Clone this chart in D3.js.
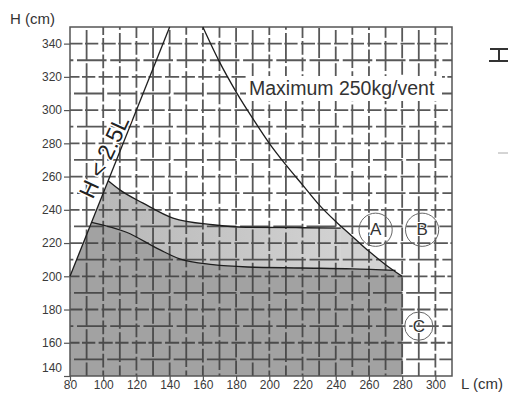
<!DOCTYPE html>
<html>
<head>
<meta charset="utf-8">
<script src="https://cdn.jsdelivr.net/npm/d3@7"></script>
<style>
  html, body { margin: 0; padding: 0; background: #fff; }
  svg { display: block; }
  text { font-family: "Liberation Sans", Arial, sans-serif; }
</style>
</head>
<body>
<svg id="chart" width="508" height="394"></svg>
<script>
// ---------- data ----------
const xTicks = [80, 100, 120, 140, 160, 180, 200, 220, 240, 260, 280, 300];
const yTicks = [140, 160, 180, 200, 220, 240, 260, 280, 300, 320, 340];
const xDomain = [80, 310];
const yDomain = [140, 350];
const gridStep = 10;

// H < 2.5L straight line
const ratioLine = [[80, 200], [140, 350]];
// "Maximum 250kg/vent" curve
const maxCurve = [[160, 350], [170, 329], [180, 311], [190, 295], [200, 280], [210, 267],
                  [220, 255], [230, 243], [240, 233], [250, 224], [260, 215], [270, 207], [280, 200]];
// upper boundary of light zone
const upperCurve = [[103, 257.5], [110, 252], [124, 244], [142, 235], [166, 231],
                    [186, 229.5], [220, 229.2], [243, 229]];
// lower boundary (dark zone)
const lowerCurve = [[93, 232.5], [114, 226.5], [134, 216], [146, 210.5], [166, 207],
                    [187, 205.6], [219, 205], [250, 204.5], [276, 203.5]];
// labelled circles
const circleLabels = ["A", "B", "C"];
const circleL = [264, 292, 290];
const circleH = [228, 228, 170];
const circleR = [10, 10, 8.5];

// ---------- drawing ----------
const svg = d3.select("#chart");
const x = d3.scaleLinear().domain(xDomain).range([70, 452]);
const y = d3.scaleLinear().domain(yDomain).range([376, 27]);
const X0 = x(xDomain[0]), X1 = x(xDomain[1]), Y0 = y(yDomain[0]), Y1 = y(yDomain[1]);

const defs = svg.append("defs");
const gLight = defs.append("linearGradient").attr("id", "gLight").attr("x1", "0").attr("x2", "1").attr("y1", "0").attr("y2", "0");
gLight.append("stop").attr("offset", "0").attr("stop-color", "#b9b9b9");
gLight.append("stop").attr("offset", "1").attr("stop-color", "#d2d2d2");

const curveGen = d3.line().x(d => x(d[0])).y(d => y(d[1])).curve(d3.curveMonotoneX);
const straight = d3.line().x(d => x(d[0])).y(d => y(d[1]));

// feasible region clip: under max curve, right of ratio line
const maxPath = curveGen(maxCurve).replace(/^M/, "L");
const clipD = `M${x(80)},${y(140)}L${x(ratioLine[0][0])},${y(ratioLine[0][1])}L${x(ratioLine[1][0])},${y(ratioLine[1][1])}` +
  maxPath + `L${x(280)},${y(140)}Z`;
defs.append("clipPath").attr("id", "feasible").append("path").attr("d", clipD);

const fills = svg.append("g").attr("clip-path", "url(#feasible)");
const areaGen = d3.area().x(d => x(d[0])).y0(y(140)).y1(d => y(d[1])).curve(d3.curveMonotoneX);
// light zone
fills.append("path").attr("d", areaGen(upperCurve)).attr("fill", "url(#gLight)");
fills.append("rect").attr("x", x(80)).attr("y", y(upperCurve[0][1]))
  .attr("width", x(upperCurve[0][0]) - x(80) + 0.5).attr("height", y(140) - y(upperCurve[0][1])).attr("fill", "#b9b9b9");
const uLast = upperCurve[upperCurve.length - 1];
fills.append("rect").attr("x", x(uLast[0]) - 0.5).attr("y", y(uLast[1]))
  .attr("width", x(290) - x(uLast[0])).attr("height", y(140) - y(uLast[1])).attr("fill", "#d2d2d2");
// dark zone
fills.append("path").attr("d", areaGen(lowerCurve)).attr("fill", "#a2a2a2");
fills.append("rect").attr("x", x(80)).attr("y", y(lowerCurve[0][1]))
  .attr("width", x(lowerCurve[0][0]) - x(80) + 0.5).attr("height", y(140) - y(lowerCurve[0][1])).attr("fill", "#a2a2a2");
const lLast = lowerCurve[lowerCurve.length - 1];
fills.append("rect").attr("x", x(lLast[0]) - 0.5).attr("y", y(lLast[1]))
  .attr("width", x(290) - x(lLast[0])).attr("height", y(140) - y(lLast[1])).attr("fill", "#a2a2a2");

// textured grid
const grid = svg.append("g").attr("stroke", "#3c3c3c").attr("stroke-width", 1.8).attr("opacity", 0.85);
const hVals = d3.range(yDomain[0] + gridStep, yDomain[1], gridStep);
const vVals = d3.range(xDomain[0] + gridStep, xDomain[1], gridStep);
const cw = x(90) - x(80), ch = y(140) - y(150);
grid.selectAll("line.h").data(hVals).join("line")
  .attr("x1", X0).attr("x2", X1).attr("y1", d => y(d)).attr("y2", d => y(d))
  .attr("stroke-dasharray", (d, i) => i % 2 ? `${cw * 0.8},${cw * 0.2},${cw * 0.85},${cw * 0.15}` : `${cw * 1.78},${cw * 0.22}`)
  .attr("stroke-dashoffset", (d, i) => -[4, 12, 7, 15][i % 4]);
grid.selectAll("line.v").data(vVals).join("line")
  .attr("y1", Y1).attr("y2", Y0).attr("x1", d => x(d)).attr("x2", d => x(d))
  .attr("stroke-dasharray", (d, i) => i % 2 ? `${ch * 0.82},${ch * 0.18}` : `${ch * 1.8},${ch * 0.2}`)
  .attr("stroke-dashoffset", (d, i) => -[3, 11, 6, 14, 1][i % 5]);

// frame
svg.append("rect").attr("x", X0).attr("y", Y1).attr("width", X1 - X0).attr("height", Y0 - Y1)
  .attr("fill", "none").attr("stroke", "#555").attr("stroke-width", 1.5);

// curves
const curves = svg.append("g").attr("fill", "none").attr("stroke", "#1e1e1e").attr("stroke-width", 1.3);
curves.append("path").attr("d", straight(ratioLine));
curves.append("path").attr("d", curveGen(maxCurve));
curves.append("path").attr("d", curveGen(upperCurve));
curves.append("path").attr("d", curveGen(lowerCurve));

// axes
const yAxis = d3.axisLeft(y).tickValues(yTicks).tickSize(6).tickPadding(2).tickFormat(d3.format("d"));
const ya = svg.append("g").attr("transform", `translate(${X0},0)`).call(yAxis);
ya.select(".domain").remove();
ya.selectAll("line").attr("stroke", "#555").attr("stroke-width", 1.2);
ya.selectAll("text").attr("font-size", 12).attr("fill", "#3a3a3a")
  .attr("font-family", "Liberation Sans, Arial, sans-serif")
  .attr("dy", d => d === 140 ? "-0.35em" : "0.32em");

const xAxis = d3.axisBottom(x).tickValues(xTicks).tickSize(5).tickPadding(1).tickFormat(d3.format("d"));
const xa = svg.append("g").attr("transform", `translate(0,${Y0})`).call(xAxis);
xa.select(".domain").remove();
xa.selectAll("line").attr("stroke", "#555").attr("stroke-width", 1.2);
xa.selectAll("text").attr("font-size", 12).attr("fill", "#3a3a3a")
  .attr("font-family", "Liberation Sans, Arial, sans-serif").attr("dy", "0.62em");

// axis titles
svg.append("text").attr("x", 10).attr("y", 24).attr("font-size", 15).attr("fill", "#333").text("H (cm)");
svg.append("text").attr("x", 461).attr("y", 389).attr("font-size", 15).attr("fill", "#333").text("L (cm)");

// "Maximum" label with white background
svg.append("rect").attr("x", 246).attr("y", 76).attr("width", 196).attr("height", 25).attr("fill", "#fff");
svg.append("text").attr("x", 249).attr("y", 95).attr("font-size", 19.5).attr("fill", "#333")
  .text("Maximum 250kg/vent");

// ratio label along line
svg.append("text").attr("transform", "translate(104,157) rotate(-65)")
  .attr("text-anchor", "middle").attr("dominant-baseline", "central")
  .attr("font-size", 23).attr("fill", "#222")
  .attr("stroke", "#fff").attr("stroke-width", 3).attr("paint-order", "stroke")
  .text("H < 2.5L");

// circles
const cg = svg.append("g");
circleLabels.forEach((lab, i) => {
  const cx = x(circleL[i]), cy = y(circleH[i]);
  const r = x(circleL[i] + circleR[i]) - cx;
  cg.append("circle").attr("cx", cx).attr("cy", cy).attr("r", r)
    .attr("fill", "none").attr("stroke", "#666").attr("stroke-width", 1);
  cg.append("text").attr("x", cx).attr("y", cy).attr("text-anchor", "middle")
    .attr("dominant-baseline", "central").attr("font-size", 17).attr("fill", "#333")
    .attr("stroke", "#fff").attr("stroke-width", 2).attr("paint-order", "stroke").text(lab);
});

// cropped neighbour fragments at the right edge
const frag = svg.append("g").attr("stroke", "#333").attr("stroke-width", 2);
frag.append("line").attr("x1", 490).attr("x2", 508).attr("y1", 49).attr("y2", 49);
frag.append("line").attr("x1", 499).attr("x2", 499).attr("y1", 49).attr("y2", 61);
frag.append("line").attr("x1", 489).attr("x2", 508).attr("y1", 61).attr("y2", 61);
frag.append("line").attr("x1", 498).attr("x2", 508).attr("y1", 153).attr("y2", 153).attr("stroke", "#aaa").attr("stroke-width", 1);
</script>
</body>
</html>
